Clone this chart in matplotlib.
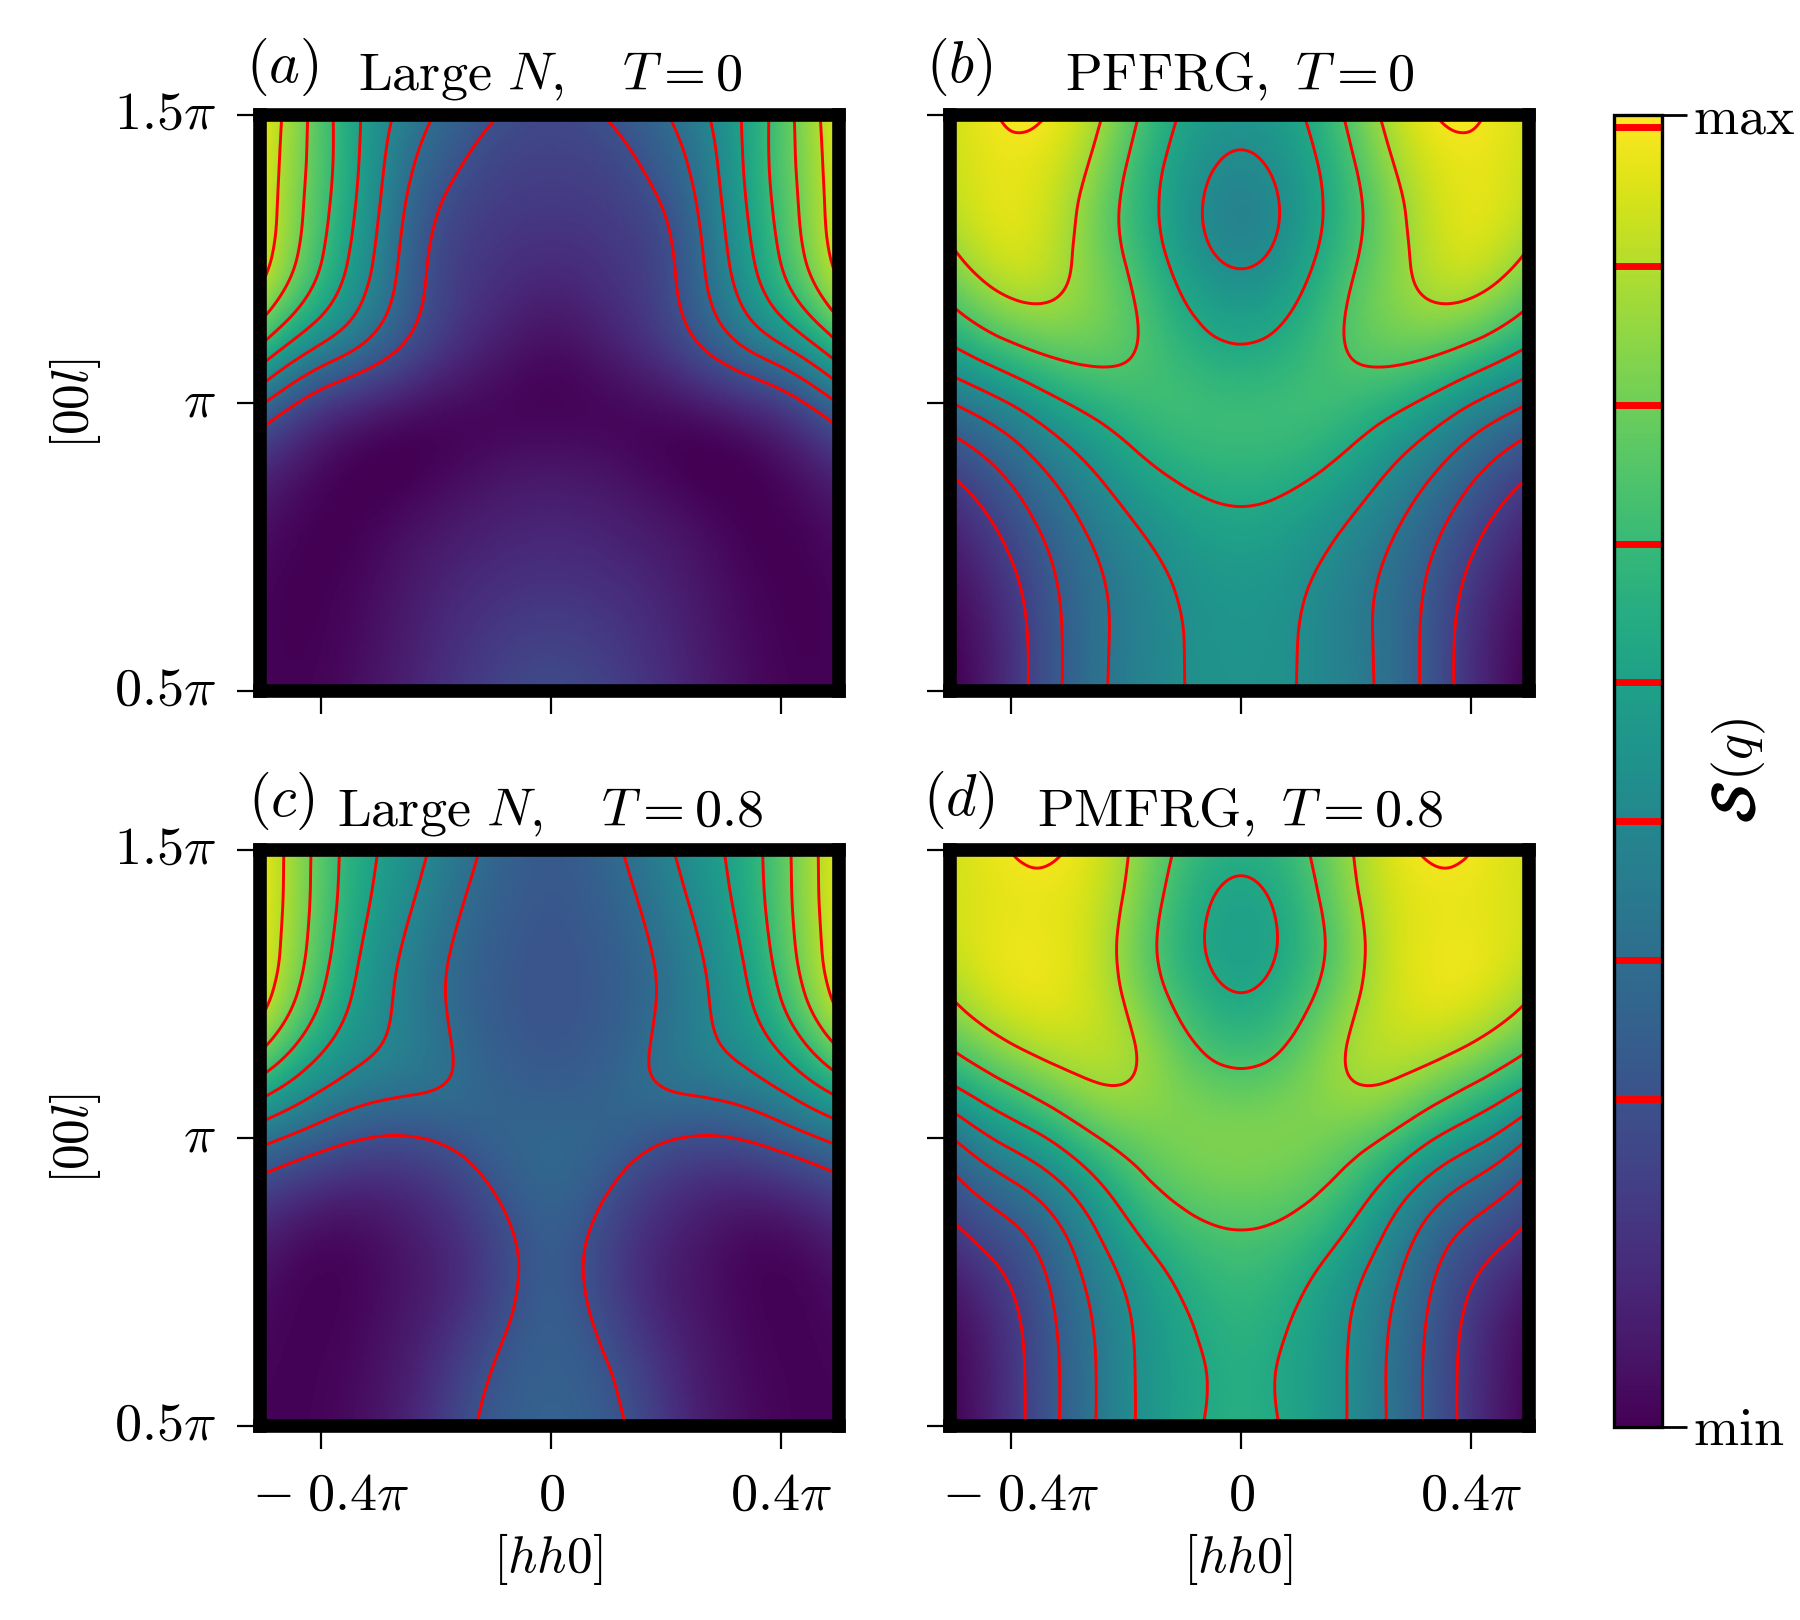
import numpy as np
import matplotlib
matplotlib.use("Agg")
import matplotlib.pyplot as plt
import matplotlib.tri as mtri
import matplotlib.patheffects as pe
from matplotlib.cm import ScalarMappable
from matplotlib.colors import Normalize

plt.rcParams['mathtext.fontset'] = 'cm'
plt.rcParams['font.family'] = ['cmr10', 'DejaVu Serif']
plt.rcParams['axes.formatter.use_mathtext'] = True

# fractions of half width (0 = centre, 1 = edge) and of height (top row first)
col_u = [0, .125, .25, .375, .5, .625, .75, .875, 1]
row_w = [1, .917, .833, .75, .667, .583, .5, .417, .333, .25, .167, .083, 0]

panel_a = [
 [.22,.23,.28,.33,.425,.53,.665,.82,.96],
 [.19,.20,.22,.30,.365,.53,.665,.81,.95],
 [.16,.165,.19,.235,.34,.50,.645,.795,.94],
 [.13,.14,.165,.21,.31,.49,.61,.775,.92],
 [.07,.10,.135,.19,.30,.41,.56,.68,.83],
 [.03,.06,.095,.15,.23,.32,.39,.47,.61],
 [.0,.005,.015,.03,.06,.10,.15,.235,.36],
 [.045,.04,.03,.01,.0,.01,.04,.09,.16],
 [.08,.075,.06,.04,.02,.0,.005,.03,.07],
 [.115,.11,.095,.075,.05,.02,.0,.005,.03],
 [.15,.145,.125,.10,.065,.03,.01,.0,.01],
 [.19,.18,.155,.12,.08,.04,.015,.0,.01],
 [.225,.21,.175,.135,.09,.05,.02,.005,.01],
]
panel_b = [
 [.53,.55,.62,.74,.87,.96,.995,.97,.93],
 [.47,.515,.585,.70,.83,.92,.96,.955,.92],
 [.44,.485,.57,.67,.78,.89,.945,.945,.90],
 [.46,.51,.585,.705,.785,.875,.93,.91,.835],
 [.555,.585,.64,.735,.79,.84,.84,.79,.71],
 [.595,.62,.67,.725,.745,.74,.70,.65,.585],
 [.69,.69,.69,.67,.635,.59,.51,.44,.375],
 [.655,.655,.64,.60,.53,.465,.39,.32,.26],
 [.605,.605,.555,.52,.45,.38,.295,.21,.14],
 [.555,.545,.515,.465,.395,.325,.24,.155,.08],
 [.525,.515,.48,.42,.375,.295,.195,.10,.035],
 [.515,.51,.475,.425,.375,.285,.185,.075,.01],
 [.51,.505,.475,.425,.375,.285,.185,.07,.0],
]
panel_c = [
 [.285,.295,.365,.42,.52,.575,.69,.83,.965],
 [.275,.285,.335,.40,.485,.568,.68,.83,.96],
 [.265,.275,.31,.37,.45,.54,.655,.815,.945],
 [.265,.27,.305,.36,.43,.51,.62,.78,.93],
 [.27,.28,.31,.365,.425,.49,.555,.675,.81],
 [.29,.30,.33,.37,.38,.395,.435,.51,.60],
 [.33,.325,.30,.255,.235,.245,.285,.335,.385],
 [.315,.295,.225,.17,.135,.115,.125,.16,.215],
 [.29,.25,.175,.115,.075,.04,.03,.05,.09],
 [.28,.25,.155,.10,.055,.03,.005,.015,.045],
 [.29,.27,.19,.125,.07,.035,.01,.005,.02],
 [.30,.285,.24,.15,.085,.04,.015,.005,.01],
 [.31,.295,.26,.175,.095,.05,.02,.005,.01],
]
panel_d = [
 [.63,.65,.73,.84,.93,.985,.99,.96,.93],
 [.575,.62,.70,.83,.92,.955,.96,.95,.93],
 [.55,.60,.67,.785,.90,.955,.97,.955,.92],
 [.60,.64,.715,.82,.92,.95,.96,.93,.865],
 [.665,.695,.77,.86,.885,.90,.875,.815,.74],
 [.755,.775,.81,.85,.85,.80,.725,.665,.595],
 [.805,.805,.79,.755,.72,.62,.555,.485,.375],
 [.775,.77,.74,.69,.575,.49,.39,.34,.265],
 [.71,.70,.66,.585,.485,.37,.285,.235,.17],
 [.665,.645,.59,.515,.43,.33,.23,.15,.075],
 [.64,.615,.56,.495,.395,.30,.20,.095,.03],
 [.625,.59,.55,.49,.39,.295,.195,.085,.015],
 [.62,.605,.55,.49,.39,.295,.195,.08,.01],
]

levels_large = [.25, .356, .462, .568, .674, .78, .886, .99]
levels_frg = [.19, .29, .39, .49, .60, .72, .85, .98]
colorbar_marks = [.25, .356, .462, .568, .673, .779, .885, .991]

panel_tags = [r'$(a)$', r'$(b)$', r'$(c)$', r'$(d)$']
panel_titles = [r'$\mathrm{Large}\ N,\quad T=0$',
                r'$\mathrm{PFFRG},\ T=0$',
                r'$\mathrm{Large}\ N,\quad T=0.8$',
                r'$\mathrm{PMFRG},\ T=0.8$']
xtick_vals = [-0.4 * np.pi, 0, 0.4 * np.pi]
xtick_text = [r'$-\;0.4\pi$', r'$0$', r'$0.4\pi$']
ytick_vals = [0.5 * np.pi, np.pi, 1.5 * np.pi]
ytick_text = [r'$0.5\pi$', r'$\pi$', r'$1.5\pi$']

W, H, DPI = 1800, 1620, 200
fig = plt.figure(figsize=(W / DPI, H / DPI), dpi=DPI)


def box(x0, y0, x1, y1):
    return fig.add_axes([x0 / W, 1 - y1 / H, (x1 - x0) / W, (y1 - y0) / H])


def put(x, y, s, **kw):
    kw.setdefault('ha', 'center')
    kw.setdefault('va', 'center')
    kw.setdefault('fontsize', 19.5)
    return fig.text(x / W, 1 - y / H, s, **kw)


def denoise(z, axis):
    """Remove grid-scale reading jitter; keeps cubic trends."""
    k = np.array([-1, 4, 10, 4, -1]) / 16
    z = np.moveaxis(z, axis, 0)
    pad = np.vstack([2 * z[0] - z[2], 2 * z[0] - z[1], z, 2 * z[-1] - z[-2], 2 * z[-1] - z[-3]])
    out = np.array([np.convolve(pad[:, j], k, mode='valid') for j in range(z.shape[1])]).T
    return np.moveaxis(out, 0, axis)


def draw(ax, table, levels):
    half = np.array(table, float)
    full = np.hstack([half[:, :0:-1], half])
    full = denoise(denoise(full, 0), 1)
    u = np.array(col_u)
    xs = np.concatenate([-u[:0:-1], u]) * 0.5 * np.pi
    ys = 0.5 * np.pi + np.array(row_w) * np.pi
    X, Y = np.meshgrid(xs, ys)
    tri = mtri.Triangulation(X.ravel(), Y.ravel())
    interp = mtri.CubicTriInterpolator(tri, full.ravel(), kind='min_E')
    fine, zf = mtri.UniformTriRefiner(tri).refine_field(full.ravel(), triinterpolator=interp, subdiv=4)
    ax.tripcolor(fine, zf, shading='gouraud', cmap='viridis', vmin=0, vmax=1, rasterized=True)
    ax.tricontour(fine, zf, levels=levels, colors='#ff0000', linewidths=1.05)
    ax.set_xlim(-0.5 * np.pi * (1 + 3 / 288), 0.5 * np.pi)
    ax.set_ylim(0.5 * np.pi, 1.5 * np.pi)
    ax.set_xticks(xtick_vals)
    ax.set_yticks(ytick_vals)
    ax.tick_params(length=8.3, width=0.8, labelsize=19.5, labelbottom=False, labelleft=False)
    for s in ax.spines.values():
        s.set_linewidth(4.9)
        s.set_capstyle('projecting')


geom = [(260, 115, 839, 691), (950, 115, 1529, 691), (260, 850, 839, 1426), (950, 850, 1529, 1426)]
tables = [panel_a, panel_b, panel_c, panel_d]
levs = [levels_large, levels_frg, levels_large, levels_frg]
for i in range(4):
    ax = box(*geom[i])
    draw(ax, tables[i], levs[i])

# tags and titles
for (x, y), s in zip([(282, 67), (959, 67), (281, 801), (959, 800)], panel_tags):
    put(x, y, s, fontsize=21)
for (x, y), s in zip([(550, 77), (1240, 77), (550, 813), (1240, 813)], panel_titles):
    put(x, y, s)

# tick labels and axis labels, drawn on the outer panels
for x_c in [551, 1241]:
    for v, s in zip(xtick_vals, xtick_text):
        shift = 10 if v < 0 else 0
        put(x_c + v / (0.5 * np.pi) * 288 + shift, 1496, s)
    put(x_c - 3, 1559, r'$[hh0]$', fontsize=18.5)
for y_c in [403, 1138]:
    for v, s in zip(ytick_vals, ytick_text):
        put(216, y_c - (v - np.pi) / (0.5 * np.pi) * 288, s, ha='right')
    put(75, y_c, r'$[00l]$', rotation=90, fontsize=18.5)

# colour bar
cax = box(1614, 115, 1662, 1427)
cb = fig.colorbar(ScalarMappable(Normalize(0, 1), 'viridis'), cax=cax, ticks=[0, 1])
cb.ax.set_yticklabels([r'$\mathrm{min}$', r'$\mathrm{max}$'], fontsize=19.5)
cb.ax.tick_params(length=9, width=1.0, pad=2)
cb.outline.set_linewidth(1.2)
cb.ax.hlines(colorbar_marks, 0.03, 1, colors='#ff0000', linewidth=2.5)
lab = put(1739, 802, r'$\mathcal{S}$', rotation=90, fontsize=21)
lab.set_path_effects([pe.withStroke(linewidth=0.7, foreground='black')])
put(1739, 750, r'$(q)$', rotation=90, fontsize=19.5)

fig.savefig('out.png', dpi=DPI, facecolor='white')
